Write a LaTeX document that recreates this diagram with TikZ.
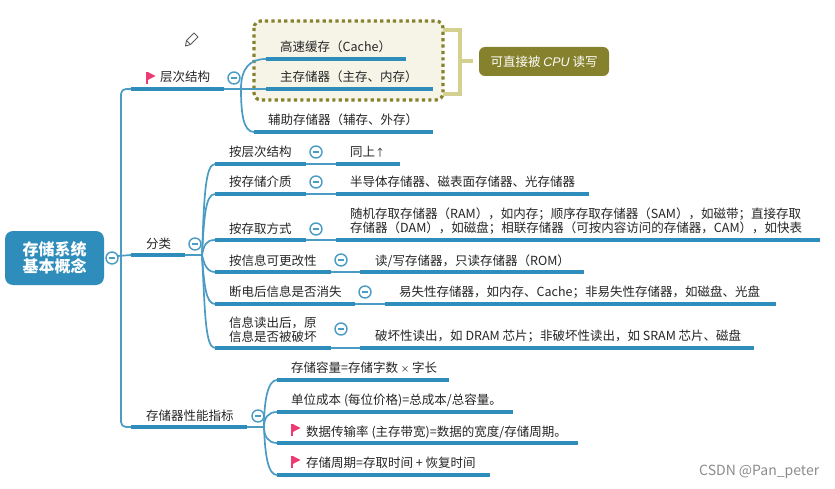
\documentclass[tikz,border=0pt]{standalone}
\usepackage{fontspec}
\setmainfont{Noto Sans CJK SC}
\newfontfamily\latinit{Liberation Sans}[Scale=1]
\definecolor{mblue}{HTML}{2F8DBB}
\definecolor{tblue}{HTML}{4A9CC4}
\definecolor{txt}{HTML}{262626}
\definecolor{oliv}{HTML}{85812C}
\definecolor{brk}{HTML}{D4D08F}
\definecolor{pale}{HTML}{F5F4E7}
\definecolor{pinkf}{HTML}{EE3A72}
\tikzset{
  x=1pt,y=-1pt,
  lbl/.style={anchor=west,inner sep=0pt,text=txt,font=\fontsize{12.5}{14}\selectfont,align=left},
  ul/.style={draw=mblue,line width=3.6pt},
  thin link/.style={draw=tblue,line width=1.7pt},
  fold/.style={circle,draw=tblue,fill=white,line width=1.4pt,minimum size=12pt,inner sep=0pt},
}
\newcommand{\topic}[4]{% name, x1, x2, y
  \coordinate (#1-l) at (#2,#4);
  \coordinate (#1-r) at (#3,#4);
  \draw[ul] (#1-l) -- (#1-r);}
\newcommand{\foldmark}[3]{%
  \node[fold] (#1) at (#2,#3) {};
  \draw[tblue,line width=1.1pt] ([xshift=-2.6pt]#1.center) -- ([xshift=2.6pt]#1.center);}
\newcommand{\flagat}[2]{%
  \fill[pinkf] (#1,#2) rectangle (#1+1.8,#2+12);
  \fill[pinkf] (#1+1.8,#2) -- (#1+9.5,#2+4) -- (#1+1.8,#2+8) -- cycle;}
\begin{document}
\begin{tikzpicture}
\useasboundingbox (0,0) rectangle (835,489);
\fill[white] (0,0) rectangle (835,489);

% highlighted boundary
\draw[fill=pale,draw=oliv,line width=3.2pt,dash pattern=on 3.2pt off 3.2pt,rounded corners=7pt] (254,21) rectangle (443,100);
\coordinate (b1) at (443,30);
\coordinate (b2) at (460,30);
\coordinate (b3) at (460,94);
\coordinate (b4) at (443,94);
\coordinate (b5) at (460,61);
\coordinate (b6) at (473,61);
\draw[brk,line width=4.6pt] (b1) -- (b2) -- (b3) -- (b4);
\draw[brk,line width=4.6pt] (b5) -- (b6);
\node[fill=oliv,rounded corners=6pt,minimum width=130pt,minimum height=29pt,inner sep=0pt,text=white,font=\fontsize{12.5}{14}\selectfont] (callout) at (544,61.5) {可直接被 {\latinit\itshape CPU} 读写};

% root
\node[fill=mblue,rounded corners=8pt,minimum width=99pt,minimum height=54pt,inner sep=0pt,align=center,text=white,font=\fontsize{16}{17.5}\bfseries\selectfont] (root) at (54.5,258) {存储系统\\基本概念};

% level 1 underlines
\topic{a}{131}{224}{89}
\topic{b}{131}{185}{255}
\topic{c}{131}{247}{427}

% level 2 underlines
\topic{a1}{266}{406}{59}
\topic{a2}{266}{433}{89}
\topic{a3}{254}{433}{132}
\topic{b1}{215}{306}{164}
\topic{b2}{215}{306}{194}
\topic{b3}{215}{306}{240}
\topic{b4}{215}{331}{272}
\topic{b5}{215}{355}{304}
\topic{b6}{215}{331}{348}
\topic{c1}{277}{449}{380}
\topic{c2}{277}{513}{412}
\topic{c3}{277}{578}{443}
\topic{c4}{277}{490}{475}

% level 3 underlines
\topic{d1}{336}{400}{164}
\topic{d2}{336}{589}{194}
\topic{d3}{336}{820}{240}
\topic{d4}{360}{584}{272}
\topic{d5}{385}{776}{304}
\topic{d6}{360}{754}{348}

% trunk
\coordinate (t0) at (118,256);
\coordinate (t1) at (121,256);
\draw[thin link,rounded corners=5pt] (a-l) -- (121,89) -- (121,427) -- (c-l);
\draw[thin link] (t0) -- (b-l);

% branches
\coordinate (fa) at (241,89);
\draw[thin link] (a-r) -- (a2-l);
\draw[thin link] (fa) .. controls (241,68) and (250,59) .. (a1-l);
\draw[thin link] (fa) .. controls (241,112) and (243,132) .. (a3-l);

\coordinate (fb) at (202,255);
\draw[thin link] (b-r) -- (fb);
\draw[thin link] (fb) .. controls (204,200) and (205,164) .. (b1-l);
\draw[thin link] (fb) .. controls (204,220) and (205,194) .. (b2-l);
\draw[thin link] (fb) .. controls (204,245) and (206,240) .. (b3-l);
\draw[thin link] (fb) .. controls (204,264) and (207,272) .. (b4-l);
\draw[thin link] (fb) .. controls (204,285) and (206,304) .. (b5-l);
\draw[thin link] (fb) .. controls (205,310) and (205,348) .. (b6-l);
\draw[thin link] (b1-r) -- (d1-l);
\draw[thin link] (b2-r) -- (d2-l);
\draw[thin link] (b3-r) -- (d3-l);
\draw[thin link] (b4-r) -- (d4-l);
\draw[thin link] (b5-r) -- (d5-l);
\draw[thin link] (b6-r) -- (d6-l);

\coordinate (fc) at (264,427);
\draw[thin link] (c-r) -- (fc);
\draw[thin link] (fc) .. controls (264,400) and (268,380) .. (c1-l);
\draw[thin link] (fc) .. controls (264,418) and (268,412) .. (c2-l);
\draw[thin link] (fc) .. controls (264,436) and (268,443) .. (c3-l);
\draw[thin link] (fc) .. controls (265,455) and (268,475) .. (c4-l);

% fold marks
\foldmark{fr}{112}{258}
\foldmark{f1}{234}{78}
\foldmark{f2}{195}{244}
\foldmark{f3}{258}{416}
\foldmark{g1}{316}{152}
\foldmark{g2}{316}{182}
\foldmark{g3}{316}{229}
\foldmark{g4}{341}{260}
\foldmark{g5}{365}{292}
\foldmark{g6}{341}{329}

% flags
\flagat{146}{72}
\flagat{291}{424}
\flagat{291}{456}

% pencil
\draw[txt!75,line width=0.9pt,line join=round] (185.5,46) -- (186.5,40.5) -- (194,33) -- (198,37) -- (190.5,44.5) -- cycle;
\draw[txt!75,line width=0.9pt] (186.5,40.5) -- (190.5,44.5);

% labels
\node[lbl] (ta) at (160,77) {层次结构};
\node[lbl] (tb) at (146,243.5) {分类};
\node[lbl] (tc) at (146,415.5) {存储器性能指标};
\node[lbl] (ta1) at (280,47) {高速缓存（Cache）};
\node[lbl] (ta2) at (280,77) {主存储器（主存、内存）};
\node[lbl] (ta3) at (268,120) {辅助存储器（辅存、外存）};
\node[lbl] (tb1) at (229,152) {按层次结构};
\node[lbl] (tb2) at (229,182) {按存储介质};
\node[lbl] (tb3) at (229,229) {按存取方式};
\node[lbl] (tb4) at (229,261) {按信息可更改性};
\node[lbl] (tb5) at (229,292) {断电后信息是否消失};
\node[lbl] (tb6) at (229,330) {信息读出后，原\\信息是否被破坏};
\node[lbl] (td1) at (350,152) {同上{\fontsize{10}{12}\selectfont ↑}};
\node[lbl] (td2) at (350,182) {半导体存储器、磁表面存储器、光存储器};
\node[lbl] (td3) at (350,221.5) {随机存取存储器（RAM），如内存；顺序存取存储器（SAM），如磁带；直接存取\\存储器（DAM），如磁盘；相联存储器（可按内容访问的存储器，CAM），如快表};
\node[lbl] (td4) at (375,261) {读/写存储器，只读存储器（ROM）};
\node[lbl] (td5) at (399,292) {易失性存储器，如内存、Cache；非易失性存储器，如磁盘、光盘};
\node[lbl] (td6) at (375,336) {破坏性读出，如 DRAM 芯片；非破坏性读出，如 SRAM 芯片、磁盘};
\node[lbl] (tc1) at (291,368) {存储容量=存储字数 {\fontsize{8.5}{12}\selectfont ×} 字长};
\node[lbl] (tc2) at (291,400) {单位成本 (每位价格)=总成本/总容量。};
\node[lbl] (tc3) at (306,432) {数据传输率 (主存带宽)=数据的宽度/存储周期。};
\node[lbl] (tc4) at (306,463) {存储周期=存取时间 + 恢复时间};
\node[anchor=west,inner sep=0pt,text=black!45,font=\fontsize{14}{15}\selectfont] (wm) at (699,472) {CSDN @Pan\_peter};
\end{tikzpicture}
\end{document}
